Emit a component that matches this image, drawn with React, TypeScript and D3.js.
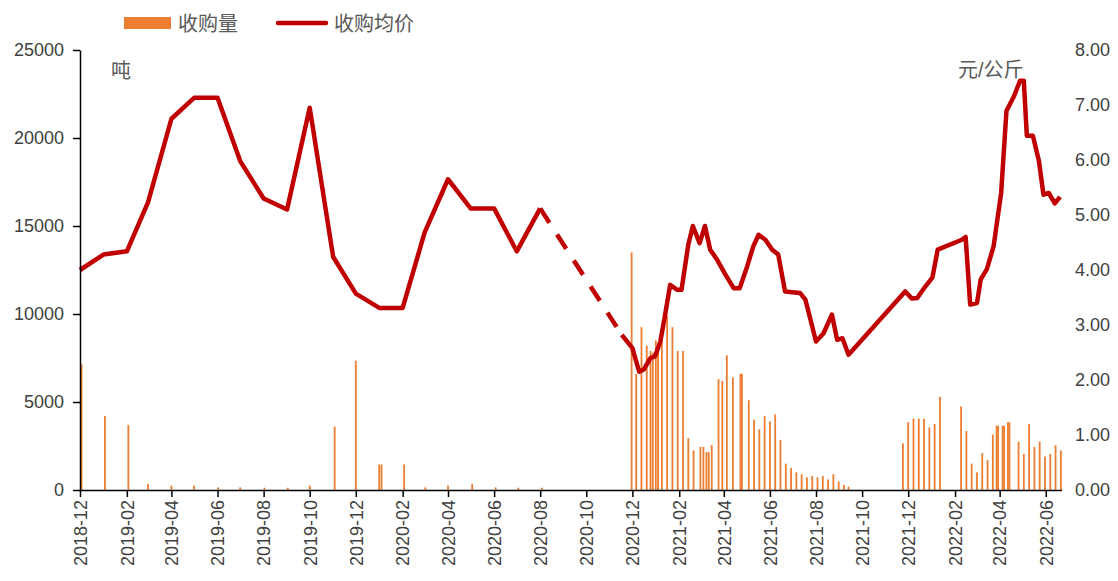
import React, { useEffect, useRef } from "react";
import * as d3 from "d3";

// 收购量 (吨) - bars
const volumeDates = [
  "2018-12-03", "2019-01-03", "2019-02-03", "2019-03-01", "2019-04-01", "2019-05-01",
  "2019-06-02", "2019-07-01", "2019-08-02", "2019-09-02", "2019-10-01", "2019-11-03",
  "2019-12-01", "2020-01-01", "2020-01-04", "2020-02-03", "2020-03-02", "2020-04-01",
  "2020-05-03", "2020-06-03", "2020-07-03", "2020-08-03",
  "2020-11-30", "2020-12-06", "2020-12-13", "2020-12-20", "2020-12-25", "2020-12-28",
  "2021-01-01", "2021-01-04", "2021-01-09", "2021-01-16", "2021-01-23", "2021-01-30",
  "2021-02-06", "2021-02-13", "2021-02-20", "2021-03-01", "2021-03-05", "2021-03-09",
  "2021-03-12", "2021-03-16", "2021-03-25", "2021-03-30", "2021-04-05", "2021-04-13",
  "2021-04-23", "2021-04-25", "2021-05-04", "2021-05-11", "2021-05-18", "2021-05-25",
  "2021-06-01", "2021-06-08", "2021-06-15", "2021-06-22", "2021-06-29", "2021-07-06",
  "2021-07-13", "2021-07-20", "2021-07-27", "2021-08-03", "2021-08-10", "2021-08-17",
  "2021-08-24", "2021-08-31", "2021-09-07", "2021-09-13",
  "2021-11-24", "2021-12-01", "2021-12-08", "2021-12-15", "2021-12-22", "2021-12-29",
  "2022-01-05", "2022-01-12", "2022-02-09", "2022-02-16", "2022-02-23", "2022-03-02",
  "2022-03-09", "2022-03-16", "2022-03-23", "2022-03-28", "2022-03-30", "2022-04-05",
  "2022-04-07", "2022-04-12", "2022-04-14", "2022-04-26", "2022-05-03", "2022-05-10",
  "2022-05-17", "2022-05-24", "2022-05-31", "2022-06-07", "2022-06-14", "2022-06-21",
];
const volumeTons = [
  7150, 4200, 3700, 340, 250, 250,
  150, 150, 130, 130, 250, 3600,
  7350, 1450, 1450, 1450, 150, 250,
  340, 150, 130, 130,
  13500, 6600, 9250, 8200, 7900, 7800,
  8500, 8200, 8800, 9900, 9250, 7900,
  7900, 2950, 2250, 2450, 2450, 2150,
  2150, 2550, 6300, 6200, 7650, 6400,
  6600, 6600, 5100, 4000, 3450, 4200,
  3900, 4300, 2850, 1500, 1250, 1000,
  900, 720, 800, 720, 800, 600,
  900, 480, 290, 190,
  2650, 3850, 4050, 4050, 4050, 3550,
  3750, 5300, 4750, 3350, 1500, 1000,
  2100, 1700, 3150, 3650, 3650, 3650,
  3650, 3850, 3850, 2750, 2050, 3750,
  2450, 2750, 1900, 2050, 2550, 2250,
];

// 收购均价 (元/公斤) - line
const priceDates = [
  "2018-12-01", "2019-01-01", "2019-02-01", "2019-03-01", "2019-04-01", "2019-05-01",
  "2019-06-01", "2019-07-01", "2019-08-01", "2019-09-01", "2019-10-01", "2019-11-01",
  "2019-12-01", "2020-01-01", "2020-02-01", "2020-03-01", "2020-04-01", "2020-05-01",
  "2020-06-01", "2020-07-01", "2020-08-01",
  "2020-11-17", "2020-12-01", "2020-12-10", "2020-12-16", "2020-12-25", "2020-12-31",
  "2021-01-07", "2021-01-13", "2021-01-20", "2021-01-29", "2021-02-04", "2021-02-13",
  "2021-02-19", "2021-02-28", "2021-03-07", "2021-03-14", "2021-03-23", "2021-04-03",
  "2021-04-14", "2021-04-22", "2021-05-02", "2021-05-10", "2021-05-17", "2021-05-26",
  "2021-06-04", "2021-06-12", "2021-06-21", "2021-07-11", "2021-07-18", "2021-08-01",
  "2021-08-11", "2021-08-22", "2021-08-29", "2021-09-05", "2021-09-13", "2021-11-27",
  "2021-12-06", "2021-12-13", "2021-12-22", "2022-01-02", "2022-01-09", "2022-02-10",
  "2022-02-15", "2022-02-21", "2022-03-02", "2022-03-07", "2022-03-15", "2022-03-24",
  "2022-04-03", "2022-04-10", "2022-04-20", "2022-04-28", "2022-05-03", "2022-05-07",
  "2022-05-15", "2022-05-23", "2022-05-29", "2022-06-05", "2022-06-13", "2022-06-20",
];
const priceYuan = [
  4.0, 4.28, 4.34, 5.23, 6.75, 7.13,
  7.13, 5.98, 5.3, 5.1, 6.95, 4.24,
  3.57, 3.31, 3.31, 4.68, 5.65, 5.12,
  5.12, 4.34, 5.12,
  2.82, 2.58, 2.15, 2.19, 2.4, 2.43,
  2.7, 3.16, 3.73, 3.64, 3.64, 4.46,
  4.8, 4.49, 4.8, 4.37, 4.19, 3.92,
  3.67, 3.67, 4.07, 4.43, 4.64, 4.55,
  4.37, 4.28, 3.61, 3.58, 3.46, 2.7,
  2.85, 3.19, 2.73, 2.76, 2.46, 3.61,
  3.48, 3.49, 3.67, 3.86, 4.37, 4.55,
  4.6, 3.37, 3.4, 3.83, 4.01, 4.43,
  5.4, 6.89, 7.16, 7.44, 7.44, 6.44,
  6.44, 5.98, 5.37, 5.4, 5.21, 5.33,
];
// the gap between these two dates is drawn dashed
const dashFrom = "2020-08-01";
const dashTo = "2020-11-17";

const xTickLabels = [
  "2018-12", "2019-02", "2019-04", "2019-06", "2019-08", "2019-10", "2019-12",
  "2020-02", "2020-04", "2020-06", "2020-08", "2020-10", "2020-12",
  "2021-02", "2021-04", "2021-06", "2021-08", "2021-10", "2021-12",
  "2022-02", "2022-04", "2022-06",
];
const leftTicks = [0, 5000, 10000, 15000, 20000, 25000];
const rightTicks = [0, 1, 2, 3, 4, 5, 6, 7, 8];

const seriesNames = ["收购量", "收购均价"];
const units = ["吨", "元/公斤"];

const ORANGE = "#ED7D31";
const RED = "#C00000";
const FONT = "'Liberation Sans', Arial, 'Noto Sans CJK SC', sans-serif";

export default function App() {
  const ref = useRef<SVGSVGElement>(null);

  useEffect(() => {
    const svg = d3.select(ref.current);
    svg.selectAll("*").remove();

    const parse = d3.timeParse("%Y-%m-%d");
    const parseMonth = d3.timeParse("%Y-%m");
    const left = 80, right = 1061.6, top = 50, bottom = 490;

    const x = d3.scaleTime()
      .domain([parse("2018-12-01")!, parse("2022-06-22")!])
      .range([left, right]);
    const yL = d3.scaleLinear().domain([0, 25000]).range([bottom, top]);
    const yR = d3.scaleLinear().domain([0, 8]).range([bottom, top]);

    // bars
    const bars = volumeDates.map((d, i) => ({ date: parse(d)!, v: volumeTons[i] }));
    svg.append("g")
      .selectAll("rect")
      .data(bars)
      .join("rect")
      .attr("x", (d) => x(d.date) - 0.9)
      .attr("y", (d) => yL(d.v))
      .attr("width", 1.8)
      .attr("height", (d) => bottom - yL(d.v))
      .attr("fill", ORANGE);

    // line
    const pts = priceDates.map((d, i) => ({ key: d, date: parse(d)!, v: priceYuan[i] }));
    const iFrom = priceDates.indexOf(dashFrom);
    const iTo = priceDates.indexOf(dashTo);
    const line = d3.line<{ date: Date; v: number }>()
      .x((d) => x(d.date))
      .y((d) => yR(d.v))
      .curve(d3.curveLinear);
    const segs = [
      { data: pts.slice(0, iFrom + 1), dash: null },
      { data: pts.slice(iFrom, iTo + 1), dash: "17,14" },
      { data: pts.slice(iTo), dash: null },
    ];
    segs.forEach((s) => {
      svg.append("path")
        .attr("d", line(s.data))
        .attr("fill", "none")
        .attr("stroke", RED)
        .attr("stroke-width", 4.5)
        .attr("stroke-linejoin", "round")
        .attr("stroke-dasharray", s.dash);
    });

    // left axis
    const gL = svg.append("g").attr("transform", `translate(${left},0)`);
    gL.call(
      d3.axisLeft(yL).tickValues(d3.range(0, 25000, 2000)).tickSize(7).tickSizeOuter(0).tickFormat(() => "")
    );
    gL.call(
      d3.axisLeft(yL).tickValues(leftTicks).tickSize(7).tickSizeOuter(0).tickPadding(9).tickFormat(d3.format("d"))
    );
    gL.selectAll("path, line").attr("stroke", "#000").attr("stroke-width", 1.5);
    gL.selectAll("text")
      .attr("font-family", FONT)
      .attr("font-size", 18)
      .attr("fill", "#404040");

    // bottom axis
    const gX = svg.append("g").attr("transform", `translate(0,${bottom})`);
    gX.call(
      d3.axisBottom(x)
        .tickValues(xTickLabels.map((t) => parseMonth(t)!))
        .tickSize(7)
        .tickSizeOuter(0)
        .tickFormat((d) => d3.timeFormat("%Y-%m")(d as Date))
    );
    gX.select(".domain").attr("stroke", "#000").attr("stroke-width", 1.5);
    gX.selectAll("line").attr("stroke", "#000").attr("stroke-width", 1.5);
    gX.selectAll("text")
      .attr("transform", "rotate(-90)")
      .attr("x", -10)
      .attr("y", 0)
      .attr("dy", "0.35em")
      .attr("text-anchor", "end")
      .attr("font-family", FONT)
      .attr("font-size", 18)
      .attr("fill", "#404040");

    // right axis labels (no line)
    svg.append("g")
      .selectAll("text")
      .data(rightTicks)
      .join("text")
      .attr("x", 1075)
      .attr("y", (d) => yR(d))
      .attr("dy", "0.35em")
      .attr("font-family", FONT)
      .attr("font-size", 18)
      .attr("fill", "#404040")
      .text((d) => d3.format(".2f")(d));

    // units
    svg.append("text")
      .attr("x", 111).attr("y", 78)
      .attr("font-family", FONT).attr("font-size", 20).attr("fill", "#595959")
      .text(units[0]);
    svg.append("text")
      .attr("x", 958).attr("y", 77)
      .attr("font-family", FONT).attr("font-size", 20).attr("fill", "#595959")
      .text(units[1]);

    // legend
    const lg = svg.append("g");
    lg.append("rect").attr("x", 124).attr("y", 17).attr("width", 47).attr("height", 12).attr("fill", ORANGE);
    lg.append("text")
      .attr("x", 178).attr("y", 31)
      .attr("font-family", FONT).attr("font-size", 20).attr("fill", "#595959")
      .text(seriesNames[0]);
    lg.append("line")
      .attr("x1", 278).attr("x2", 326).attr("y1", 23).attr("y2", 23)
      .attr("stroke", RED).attr("stroke-width", 4.5).attr("stroke-linecap", "round");
    lg.append("text")
      .attr("x", 334).attr("y", 31)
      .attr("font-family", FONT).attr("font-size", 20).attr("fill", "#595959")
      .text(seriesNames[1]);
  }, []);

  return (
    <svg
      ref={ref}
      width={1118}
      height={581}
      style={{ position: "absolute", left: 0, top: 0, background: "#fff" }}
    />
  );
}
